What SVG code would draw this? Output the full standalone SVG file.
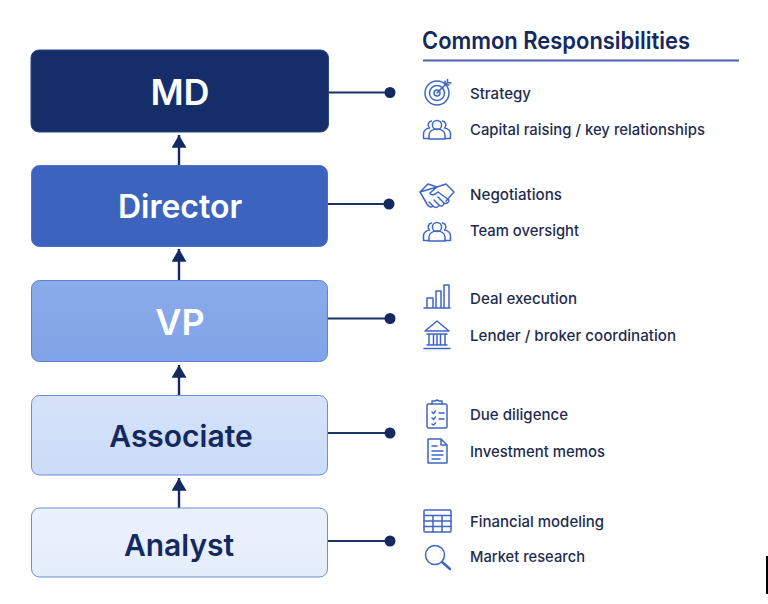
<svg xmlns="http://www.w3.org/2000/svg" width="768" height="604" viewBox="0 0 768 604">
<style>
text{font-family:Inter,"Noto Sans","Liberation Sans",sans-serif}
.t{font-weight:600;text-anchor:middle}
.w{fill:#fff}.d{fill:#14295f}
.r{font-size:15px;font-weight:500;fill:#1f2c50}
.c{stroke:#1b3268;stroke-width:2;fill:none}
.a{stroke:#14295f;stroke-width:2.400;fill:none;marker-end:url(#ah)}
.i{fill:none;stroke:#3f66c4;stroke-width:1.500;stroke-linejoin:round;stroke-linecap:round}
.dot{fill:#14295f}
</style>
<defs>
<marker id="ah" markerUnits="userSpaceOnUse" markerWidth="13" markerHeight="15" refX="12" refY="7" orient="auto" viewBox="0 0 12 14"><path d="M0 0L12 7L0 14Z" fill="#14295f"/></marker>
<linearGradient id="g1" x1="0" y1="0" x2="0" y2="1"><stop offset="0" stop-color="#8aabea"/><stop offset="1" stop-color="#80a4e8"/></linearGradient>
<linearGradient id="g2" x1="0" y1="0" x2="0" y2="1"><stop offset="0" stop-color="#d5e2f9"/><stop offset="1" stop-color="#cbdcf7"/></linearGradient>
<linearGradient id="g3" x1="0" y1="0" x2="0" y2="1"><stop offset="0" stop-color="#ecf2fc"/><stop offset="1" stop-color="#e4edfb"/></linearGradient>
<g id="people" class="i">
<circle cx="0" cy="-4" r="4.600"/><path d="M-8 10V6C-8 2-4 0 0 0S8 2 8 6V10Z"/>
<path d="M-5.500-8A4 4 0 0 0-7.500-1C-11-.5-13.500 2-13.500 5V9.500H-8"/>
<path d="M5.500-8A4 4 0 0 1 7.500-1C11-.5 13.500 2 13.500 5V9.500H8"/>
</g>
</defs>
<rect width="768" height="604" fill="#fff"/>
<g id="connectors">
<path class="a" d="M179 165V135"/><path class="a" d="M179 280V249"/><path class="a" d="M179 395V365"/><path class="a" d="M179 508V478"/>
<path class="c" d="M328 92.500H390"/><circle class="dot" cx="390" cy="92.500" r="5.500"/>
<path class="c" d="M327 204H389"/><circle class="dot" cx="389" cy="204" r="5.500"/>
<path class="c" d="M327 318.500H390"/><circle class="dot" cx="390" cy="318.500" r="5.500"/>
<path class="c" d="M327 433H390"/><circle class="dot" cx="390" cy="433" r="5.500"/>
<path class="c" d="M327 541H390"/><circle class="dot" cx="390" cy="541" r="5.500"/>
</g>
<g id="md"><rect x="31" y="50" width="297.500" height="82" rx="8" fill="#152e69" stroke="#2c4585"/><text class="t w" x="180" y="105" font-size="36">MD</text></g>
<g id="director"><rect x="31.500" y="165.500" width="296" height="81" rx="8" fill="#3c64bf" stroke="#4b71c9"/><text class="t w" x="180" y="218" font-size="32">Director</text></g>
<g id="vp"><rect x="31.500" y="280.500" width="296" height="81" rx="8" fill="url(#g1)" stroke="#5c82d6"/><text class="t w" x="180" y="334.500" font-size="36">VP</text></g>
<g id="associate"><rect x="31.500" y="395.500" width="296" height="79.500" rx="8" fill="url(#g2)" stroke="#6b8ddb"/><text class="t d" x="181" y="447" font-size="30">Associate</text></g>
<g id="analyst"><rect x="31.500" y="508" width="296" height="69" rx="8" fill="url(#g3)" stroke="#6b8ddb"/><text class="t d" x="179" y="555.500" font-size="30">Analyst</text></g>
<g id="heading"><text x="422" y="49" font-size="24" font-weight="600" fill="#14295f" textLength="268" lengthAdjust="spacingAndGlyphs">Common Responsibilities</text><path d="M423 60.500H739" stroke="#4a62a8" stroke-width="1.800"/></g>
<g id="resp-strategy">
<g class="i"><circle cx="437" cy="93" r="12"/><circle cx="437" cy="93" r="7.500"/><circle cx="437" cy="93" r="3"/><path d="M437 93L447 83M445 81L445.500 84.500L449 85M447.500 79.500V82.500L451 83"/></g>
<text class="r" x="470" y="99" textLength="61" lengthAdjust="spacingAndGlyphs">Strategy</text></g>
<g id="resp-capital"><use href="#people" x="437" y="129"/><text class="r" x="470" y="134.500" textLength="235" lengthAdjust="spacingAndGlyphs">Capital raising / key relationships</text></g>
<g id="resp-negotiations">
<g class="i"><path d="M420 192L428 184L437 187L446 184L454 192L446 201M437 187L430 193C431 196 435 195 438 192L449 200C449 203 446 204 444 203C444 206 441 207 439 205C438 208 435 208 433 206C431 208 429 207 427 204L420 192ZM433 206L429 202M439 205L434 200M444 203L438 197"/></g>
<text class="r" x="470" y="200" textLength="92" lengthAdjust="spacingAndGlyphs">Negotiations</text></g>
<g id="resp-team"><use href="#people" x="437" y="231"/><text class="r" x="470" y="236" textLength="109" lengthAdjust="spacingAndGlyphs">Team oversight</text></g>
<g id="resp-deal">
<g class="i"><path d="M424 308H450M427 298H433V308H427ZM436 291H441V308H436ZM444 285H449V308H444Z"/></g>
<text class="r" x="470" y="304" textLength="107" lengthAdjust="spacingAndGlyphs">Deal execution</text></g>
<g id="resp-lender">
<g class="i"><path d="M425 331L437 321L449 331ZM427 334H447M429 335V345M433.500 335V345M440.500 335V345M445 335V345M437 335V345M427 345H447M424 348.500H450"/></g>
<text class="r" x="470" y="341" textLength="206" lengthAdjust="spacingAndGlyphs">Lender / broker coordination</text></g>
<g id="resp-due">
<g class="i"><rect x="427" y="404" width="20" height="24" rx="1.500"/><path d="M432 404V401H435L437 400L439 401H442V404M432 412L433.500 413.500L435.500 411M432 418L433.500 419.500L435.500 417M432 424L433.500 425L435.500 423M439 413H444M439 419H444"/></g>
<text class="r" x="470" y="420" textLength="98" lengthAdjust="spacingAndGlyphs">Due diligence</text></g>
<g id="resp-memos">
<g class="i"><path d="M428 439H441L447 445V463H428ZM441 439V445H447M432 446H437M432 451H443M432 455H443M432 459H440"/></g>
<text class="r" x="470" y="456.500" textLength="135" lengthAdjust="spacingAndGlyphs">Investment memos</text></g>
<g id="resp-modeling">
<g class="i"><rect x="424" y="510" width="27" height="22" rx="1"/><path d="M424 515.500H451M424 521H451M424 526.500H451M433 515.500V532M442 515.500V532"/></g>
<text class="r" x="470" y="527" textLength="134" lengthAdjust="spacingAndGlyphs">Financial modeling</text></g>
<g id="resp-research">
<g class="i"><circle cx="435" cy="555" r="9.500"/><path d="M442 562L450 569" stroke-width="2.500"/></g>
<text class="r" x="470" y="562" textLength="115" lengthAdjust="spacingAndGlyphs">Market research</text></g>
<rect id="edge-bar" x="766" y="556" width="2" height="38" fill="#000"/>
</svg>
